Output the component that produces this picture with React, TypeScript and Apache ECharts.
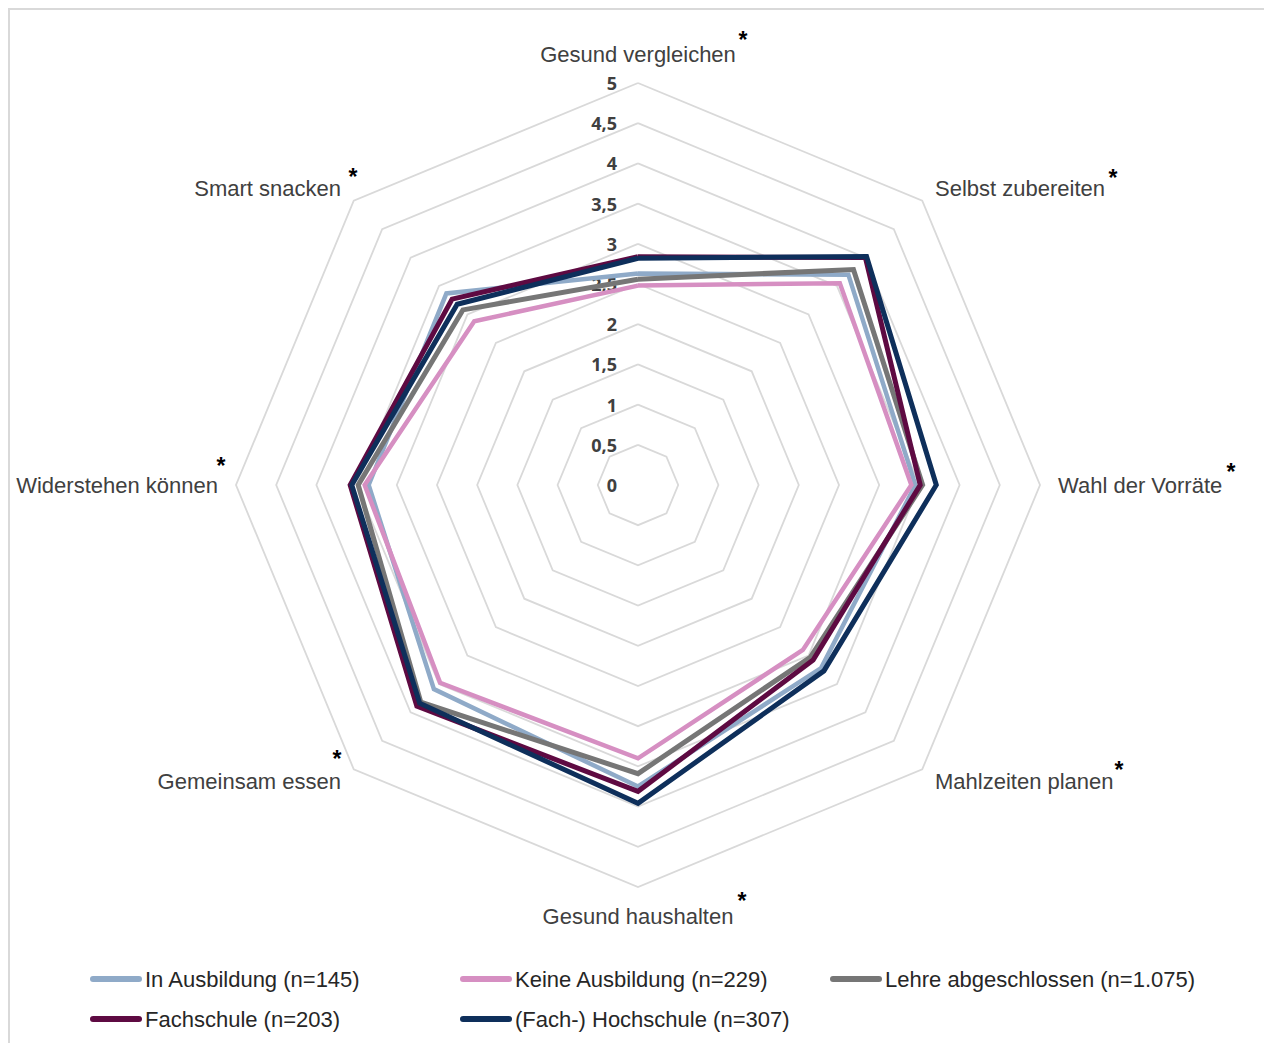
import { useEffect, useRef } from "react";
import * as echarts from "echarts";

// Dimensions in clockwise reading order, starting at the top
const dimensions = [
  "Gesund vergleichen",
  "Selbst zubereiten",
  "Wahl der Vorräte",
  "Mahlzeiten planen",
  "Gesund haushalten",
  "Gemeinsam essen",
  "Widerstehen können",
  "Smart snacken",
];

const groupNames = [
  "In Ausbildung (n=145)",
  "Keine Ausbildung (n=229)",
  "Lehre abgeschlossen (n=1.075)",
  "Fachschule (n=203)",
  "(Fach-) Hochschule (n=307)",
];

const inAusbildung = [2.63, 3.7, 3.45, 3.22, 3.75, 3.59, 3.35, 3.37];
const keineAusbildung = [2.48, 3.55, 3.4, 2.9, 3.4, 3.48, 3.4, 2.88];
const lehreAbgeschlossen = [2.56, 3.79, 3.54, 3.03, 3.59, 3.82, 3.48, 3.08];
const fachschule = [2.84, 4.0, 3.51, 3.08, 3.81, 3.89, 3.58, 3.27];
const hochschule = [2.82, 4.02, 3.71, 3.27, 3.96, 3.84, 3.56, 3.18];

const groupValues = [inAusbildung, keineAusbildung, lehreAbgeschlossen, fachschule, hochschule];
const groupColors = ["#8FAAC8", "#D68FC2", "#767676", "#5E0A42", "#0E2F5B"];
const groupWidths = [4.5, 4.5, 5, 5, 5];

const scaleMax = 5;
const scaleStep = 0.5;

// ECharts lays radar indicators out counter-clockwise; this maps them to clockwise order
const ccwOrder = [0, 7, 6, 5, 4, 3, 2, 1];
const toCcw = <T,>(arr: T[]) => ccwOrder.map((i) => arr[i]);

const CX = 628;
const CY = 475;
const R = 402;

// Significance markers next to each dimension name
const starMarks: [number, number][] = [
  [733, 30],
  [1103, 168],
  [1221, 462],
  [1109, 760],
  [732, 891],
  [327, 749],
  [211, 456],
  [343, 167],
];

const fontName = "'Liberation Sans', Arial, sans-serif";

export default function App() {
  const ref = useRef<HTMLDivElement>(null);

  useEffect(() => {
    document.documentElement.style.overflow = "hidden";
    const chart = echarts.init(ref.current!, undefined, { renderer: "svg" });

    const legendIcon =
      "path://M3,0 L49,0 A3,3 0 0 1 49,6 L3,6 A3,3 0 0 1 3,0 Z";

    const legendBase = {
      orient: "vertical" as const,
      top: 958,
      padding: 0,
      itemGap: 18,
      itemWidth: 52,
      itemHeight: 6,
      icon: legendIcon,
      itemStyle: { borderWidth: 0 },
      textStyle: {
        fontFamily: fontName,
        fontSize: 22,
        lineHeight: 22,
        color: "#262626",
        padding: [0, 0, 0, -2],
      },
    };

    chart.setOption({
      animation: false,
      backgroundColor: "#ffffff",
      radar: {
        center: [CX, CY],
        radius: R,
        startAngle: 90,
        shape: "polygon",
        splitNumber: scaleMax / scaleStep,
        nameGap: 18,
        indicator: toCcw(dimensions).map((name) => ({ name, min: 0, max: scaleMax })),
        axisName: {
          color: "#404040",
          fontFamily: fontName,
          fontSize: 22,
        },
        axisLine: { show: false },
        axisTick: { show: false },
        axisLabel: { show: false },
        splitArea: { show: false },
        splitLine: { lineStyle: { color: "#D9D9D9", width: 1.8 } },
      },
      polar: { center: [CX, CY], radius: R },
      angleAxis: { type: "value", min: 0, max: 360, startAngle: 90, show: false },
      radiusAxis: {
        type: "value",
        min: 0,
        max: scaleMax,
        interval: scaleStep,
        axisLine: { show: false },
        axisTick: { show: false },
        splitLine: { show: false },
        axisLabel: {
          margin: 21,
          fontFamily: "'Open Sans', sans-serif",
          fontWeight: "bold",
          fontSize: 18,
          color: "#404040",
          formatter: (v: number) => String(v).replace(".", ","),
        },
      },
      legend: [
        { ...legendBase, left: 80, data: [groupNames[0], groupNames[3]] },
        { ...legendBase, left: 450, data: [groupNames[1], groupNames[4]] },
        { ...legendBase, left: 820, data: [groupNames[2]] },
      ],
      series: groupNames.map((name, i) => ({
        type: "radar",
        name,
        symbol: "none",
        z: 2 + i,
        itemStyle: { color: groupColors[i] },
        lineStyle: { color: groupColors[i], width: groupWidths[i], join: "miter" },
        data: [{ name, value: toCcw(groupValues[i]) }],
      })),
      graphic: starMarks.map(([x, y]) => ({
        type: "text",
        x,
        y,
        style: {
          text: "*",
          fill: "#000000",
          font: `bold 23px ${fontName}`,
          align: "center",
          verticalAlign: "middle",
        },
      })),
    });

    return () => chart.dispose();
  }, []);

  return (
    <div
      style={{
        width: 1262,
        height: 1040,
        border: "2px solid #D9D9D9",
        borderBottom: "none",
        boxSizing: "border-box",
        background: "#fff",
      }}
    >
      <div ref={ref} style={{ width: 1258, height: 1038 }} />
    </div>
  );
}
